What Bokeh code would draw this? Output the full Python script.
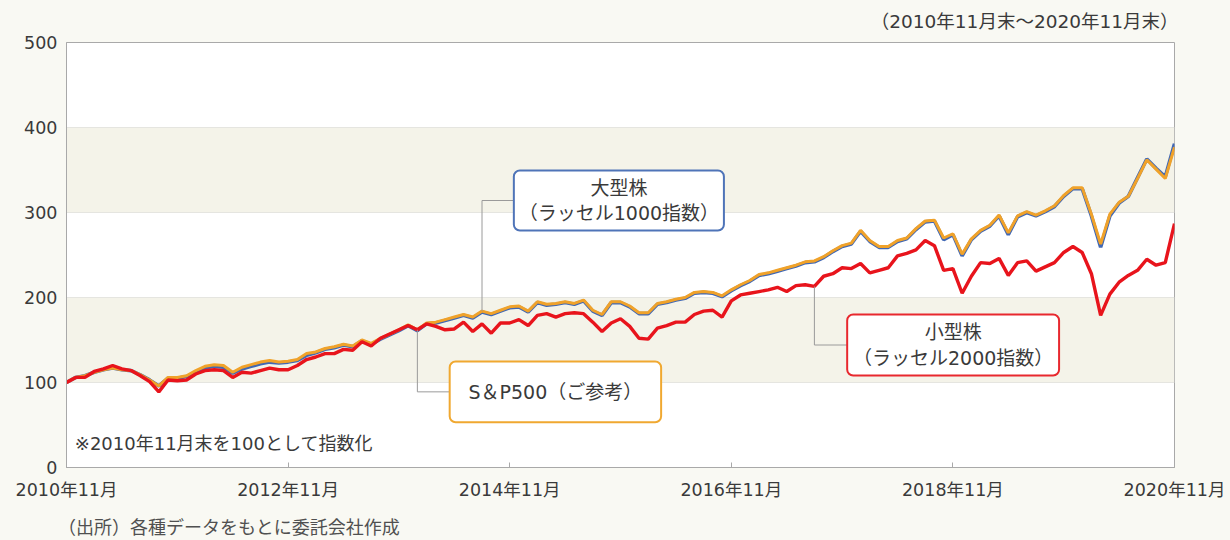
from bokeh.plotting import figure
from bokeh.models import BoxAnnotation, Label, FixedTicker, Range1d, ColumnDataSource, Title, Div
from bokeh.layouts import column
from bokeh.embed import file_html
from bokeh.resources import INLINE

# ---- data (monthly, 2010/11 = 100) ----
months = list(range(121))  # month index from 2010年11月末

sp500 = [100,106,108,112,115,117,115,114,109,103,
         96,106,106,108,114,119,121,120,112,118,
         121,124,126,124,125,127,134,136,140,142,
         145,143,150,146,152,157,162,168,162,170,
         171,174,177,180,177,184,181,185,189,190,
         184,195,192,193,195,193,197,185,180,195,
         195,190,182,182,193,195,198,200,206,207,
         206,202,209,215,220,227,229,232,235,238,
         242,243,248,255,261,264,279,267,260,260,
         267,270,281,290,291,270,275,251,269,279,
         285,297,276,296,301,297,302,308,320,329,
         329,298,263,298,312,319,340,362,351,340,
         377]

russell1000 = [100,106,108,112,115,117,115,114,109,103,
               96,105,105,107,112,117,119,118,111,116,
               119,122,124,123,124,126,132,135,139,141,
               144,142,149,145,151,156,161,167,161,169,
               170,173,176,179,176,183,180,184,188,189,
               183,194,191,192,194,192,196,184,179,194,
               194,189,181,181,192,194,197,199,205,206,
               205,201,208,214,219,226,228,231,234,237,
               241,242,247,254,260,263,278,266,259,259,
               266,269,280,289,290,268,274,249,268,278,
               284,296,274,295,300,296,301,307,319,328,
               328,296,259,296,311,319,341,363,352,342,
               381]

russell2000 = [100,106,106,113,116,120,116,114,108,101,
               89,103,102,103,110,114,115,114,106,112,
               111,114,117,115,115,120,127,130,134,134,
               139,138,148,143,152,157,162,167,162,169,
               166,162,163,171,160,169,158,170,170,174,
               167,179,181,177,181,182,181,171,160,170,
               175,166,152,151,164,167,171,171,180,184,
               185,177,196,203,205,207,209,212,207,214,
               215,213,225,228,235,234,240,229,232,235,
               249,252,256,267,261,232,234,205,225,241,
               240,246,226,241,243,231,236,241,253,260,
               253,228,179,204,218,226,232,245,238,241,
               287]

x_tick_pos = [0, 24, 48, 72, 96, 120]
x_tick_labels = ["2010年11月", "2012年11月", "2014年11月", "2016年11月", "2018年11月", "2020年11月"]
y_ticks = [0, 100, 200, 300, 400, 500]

FONT = "DejaVu Sans, Noto Sans CJK JP"
TXT = "#3a3a3a"
BG = "#f9f9f3"
BAND = "#f4f3e9"
SOURCE_TEXT = "（出所）各種データをもとに委託会社作成"

src = ColumnDataSource(dict(m=months, sp=sp500, r1=russell1000, r2=russell2000))

p = figure(width=1230, height=515, x_range=Range1d(0, 120), y_range=Range1d(0, 500),
           output_backend="svg", toolbar_location=None,
           min_border_left=66, min_border_right=56, min_border_top=42, min_border_bottom=48,
           background_fill_color="white", border_fill_color=BG,
           outline_line_color="#a9a9a9", outline_line_width=1)

# title (top right)
p.add_layout(Title(text="（2010年11月末～2020年11月末）", align="right", vertical_align="top",
                   text_font=FONT, text_font_size="18.5px", text_font_style="normal",
                   text_color=TXT, standoff=18, offset=-4), "above")

# bands
for lo, hi in [(100, 200), (300, 400)]:
    p.add_layout(BoxAnnotation(bottom=lo, top=hi, fill_color=BAND, fill_alpha=1,
                               line_alpha=0, level="underlay"))

# grid
p.xgrid.visible = False
p.ygrid.ticker = FixedTicker(ticks=[100, 200, 300, 400])
p.ygrid.grid_line_color = "#d6d6d6"
p.ygrid.grid_line_width = 1

# axes
p.xaxis.ticker = FixedTicker(ticks=x_tick_pos)
p.xaxis.major_label_overrides = {t: l for t, l in zip(x_tick_pos, x_tick_labels)}
p.xaxis.major_tick_in = 5
p.xaxis.major_tick_out = 0
p.xaxis.minor_tick_line_color = None
p.xaxis.major_tick_line_color = "#a9a9a9"
p.xaxis.axis_line_color = "#a9a9a9"
p.xaxis.major_label_standoff = 12

p.yaxis.ticker = FixedTicker(ticks=y_ticks)
p.yaxis.major_tick_in = 0
p.yaxis.major_tick_out = 0
p.yaxis.minor_tick_line_color = None
p.yaxis.axis_line_color = "#a9a9a9"
p.yaxis.major_label_standoff = 9

for ax in (p.xaxis, p.yaxis):
    ax.major_label_text_font = FONT
    ax.major_label_text_font_size = "17.5px"
    ax.major_label_text_color = TXT

# lines
p.line("m", "r1", source=src, line_color="#3f67b5", line_width=3.6)
p.line("m", "sp", source=src, line_color="#f0a22a", line_width=3)
p.line("m", "r2", source=src, line_color="#e8141c", line_width=3.4)

# note
p.add_layout(Label(x=0.9, y=28, text="※2010年11月末を100として指数化", text_font=FONT,
                   text_font_size="18px", text_color=TXT, text_baseline="middle"))

# callouts
def callout(anchor_v, left, right, bottom, top, elbow_x, color, lines, line_h):
    mid_v = (bottom + top) / 2
    p.line([left, elbow_x, elbow_x], [mid_v, mid_v, anchor_v], line_color="#9a9a9a", line_width=1)
    p.add_layout(BoxAnnotation(left=left, right=right, bottom=bottom, top=top,
                               fill_color="white", fill_alpha=1, line_color=color,
                               line_alpha=1, line_width=2, border_radius=6))
    cx = (left + right) / 2
    n = len(lines)
    for k, t in enumerate(lines):
        yy = mid_v + (n - 1) / 2 * line_h - k * line_h
        p.add_layout(Label(x=cx, y=yy, text=t, text_font=FONT, text_font_size="19px",
                           text_color=TXT, text_align="center", text_baseline="middle"))

callout(sp500[45], 48.45, 71.2, 278.8, 349.4, 45, "#4f74b8",
        ["大型株", "（ラッセル1000指数）"], 29.5)
callout(sp500[38], 41.5, 64.4, 53.3, 124.7, 38, "#f0a830",
        ["S＆P500（ご参考）"], 0)
callout(russell2000[81], 84.55, 107.5, 108.2, 180, 81, "#e8282e",
        ["小型株", "（ラッセル2000指数）"], 29.5)

# source note below the chart
footer = Div(text=SOURCE_TEXT, width=1230, height=25,
             styles={"font-family": FONT, "font-size": "18px", "color": "#505050",
                     "padding-left": "58px", "line-height": "25px", "white-space": "nowrap",
                     "margin": "0"})

layout = column(p, footer, spacing=0)

html = file_html(layout, INLINE)
html = html.replace("<head>", "<head><style>body{background:%s;}</style>" % BG, 1)
open("out.html", "w").write(html)
